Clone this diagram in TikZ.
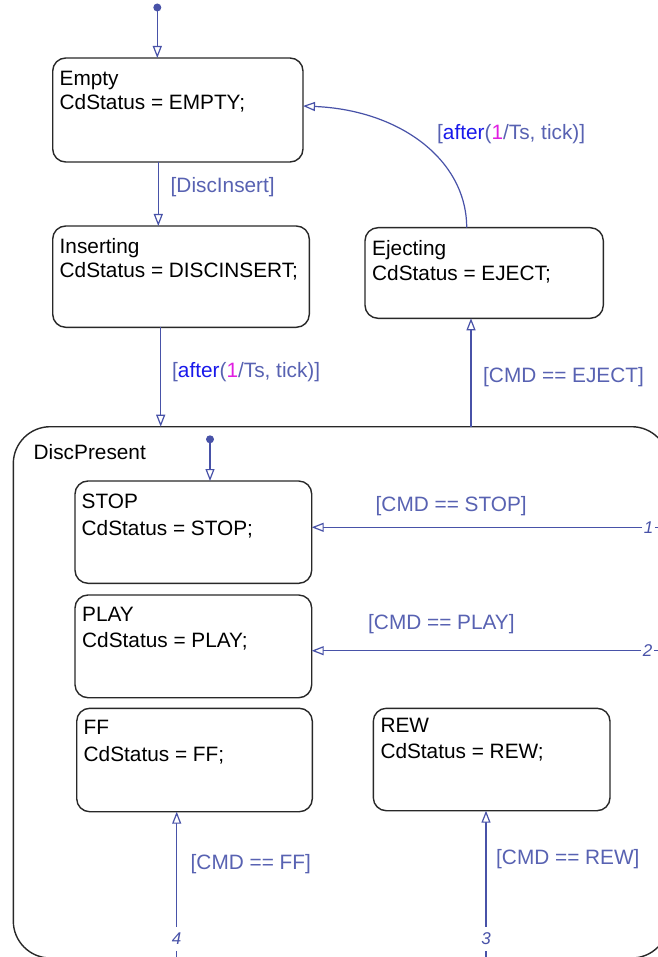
\documentclass[tikz,border=0pt]{standalone}
\usepackage{fontspec}
\setmainfont{Liberation Sans}
\usetikzlibrary{arrows.meta}
\definecolor{trc}{RGB}{72,82,168}
\definecolor{lbc}{RGB}{88,98,178}
\definecolor{kwc}{RGB}{25,25,235}
\definecolor{numc}{RGB}{225,30,225}
\definecolor{boxc}{RGB}{40,40,40}
\tikzset{
 statebox/.style={draw=boxc, line width=1.4pt, rounded corners=13pt, inner sep=0pt, outer sep=0pt, anchor=north west},
 stxt/.style={anchor=base west, inner sep=0pt, font=\fontsize{20.8pt}{25pt}\selectfont, text=black},
 glabel/.style={anchor=base west, inner sep=0pt, font=\fontsize{20.8pt}{25pt}\selectfont, text=lbc},
 trans/.style={draw=trc, line width=1.2pt, -{Triangle[open, length=12pt, width=9pt, fill=white]}},
 plainline/.style={draw=trc, line width=1.2pt},
 dotnode/.style={circle, fill=trc, inner sep=0pt, minimum size=8pt},
 ordnum/.style={inner xsep=1.5pt, inner ysep=6pt, fill=white, text=trc, font=\fontsize{17pt}{20pt}\selectfont\itshape},
}
\begin{document}
\begin{tikzpicture}[x=1pt,y=-1pt]
\useasboundingbox (0,0) rectangle (657,957);
\fill[white] (0,0) rectangle (657,957);

% states
\node[statebox, minimum width=250.3pt, minimum height=104pt] (empty) at (52.7,58) {};
\node[statebox, minimum width=256.6pt, minimum height=101.3pt] (inserting) at (52.7,226) {};
\node[statebox, minimum width=238.3pt, minimum height=90.6pt] (ejecting) at (365,227.7) {};
\node[statebox, rounded corners=37pt, minimum width=655.4pt, minimum height=531.3pt] (disc) at (13.3,426.7) {};
\node[statebox, minimum width=236.7pt, minimum height=102.3pt] (stop) at (75,481) {};
\node[statebox, minimum width=236.7pt, minimum height=102.7pt] (play) at (75,595) {};
\node[statebox, minimum width=235.6pt, minimum height=103.4pt] (ff) at (76.7,708.3) {};
\node[statebox, minimum width=236.7pt, minimum height=102.4pt] (rew) at (373.3,708.3) {};

% state texts
\node[stxt] (emptyA) at (59.5,86) {Empty};
\node[stxt] (emptyB) at (59.5,110) {CdStatus = EMPTY;};
\node[stxt] (insA) at (59.5,254) {Inserting};
\node[stxt] (insB) at (59.5,278) {CdStatus = DISCINSERT;};
\node[stxt] (ejA) at (372,256) {Ejecting};
\node[stxt] (ejB) at (372,280) {CdStatus = EJECT;};
\node[stxt] (discA) at (33.5,459.3) {DiscPresent};
\node[stxt] (stopA) at (81.5,508.3) {STOP};
\node[stxt] (stopB) at (81.5,535) {CdStatus = STOP;};
\node[stxt] (playA) at (82,621.7) {PLAY};
\node[stxt] (playB) at (82,647.7) {CdStatus = PLAY;};
\node[stxt] (ffA) at (83.5,734.3) {FF};
\node[stxt] (ffB) at (83.5,761.7) {CdStatus = FF;};
\node[stxt] (rewA) at (380.3,732.7) {REW};
\node[stxt] (rewB) at (380.3,758.3) {CdStatus = REW;};

% default transitions
\node[dotnode] (init1) at (157.3,7.5) {};
\draw[trans] (init1.center) -- (init1.center |- empty.north);
\node[dotnode] (init2) at (210,439.3) {};
\draw[trans] (init2.center) -- (init2.center |- stop.north);

% transitions
\draw[trans] ([xshift=105.6pt]empty.south west) -- ([xshift=105.6pt]inserting.north west);
\node[glabel] (lDisc) at (170.5,192.5) {{[}DiscInsert{]}};

\draw[trans] ([xshift=108pt]inserting.south west) -- ([xshift=147.4pt]disc.north west);
\node[glabel] (lAfter1) at (172,377) {{[}\textcolor{kwc}{after}(\textcolor{numc}{1}/Ts, tick){]}};

\draw[trans] ([xshift=101.7pt]ejecting.north west) .. controls (466.7,160) and (400,110) .. ([yshift=-48pt]empty.north east);
\node[glabel] (lAfter2) at (437,140) {{[}\textcolor{kwc}{after}(\textcolor{numc}{1}/Ts, tick){]}};

\draw[trans] ([xshift=457.7pt]disc.north west) -- ([xshift=106pt]ejecting.south west);
\node[glabel] (lEject) at (483,382.5) {{[}CMD == EJECT{]}};

% inner transitions
\node[ordnum] (o1) at (648.5,527.3) {1};
\draw[plainline] (o1.east) -- (o1.east -| disc.east);
\draw[trans] (o1.west) -- (o1.west -| stop.east);
\node[glabel] (lStop) at (375.5,511) {{[}CMD == STOP{]}};

\node[ordnum] (o2) at (647.5,650.7) {2};
\draw[plainline] (o2.east) -- (o2.east -| disc.east);
\draw[trans] (o2.west) -- (o2.west -| play.east);
\node[glabel] (lPlay) at (368,629.5) {{[}CMD == PLAY{]}};

\node[ordnum] (o4) at (176.7,938.8) {4};
\draw[plainline] (o4.south) -- (o4.south |- disc.south);
\draw[trans] (o4.north) -- (o4.north |- ff.south);
\node[glabel] (lFF) at (190.5,869) {{[}CMD == FF{]}};

\node[ordnum] (o3) at (486,938.8) {3};
\draw[plainline] (o3.south) -- (o3.south |- disc.south);
\draw[trans] (o3.north) -- (o3.north |- rew.south);
\node[glabel] (lRew) at (496,864) {{[}CMD == REW{]}};
\end{tikzpicture}
\end{document}
